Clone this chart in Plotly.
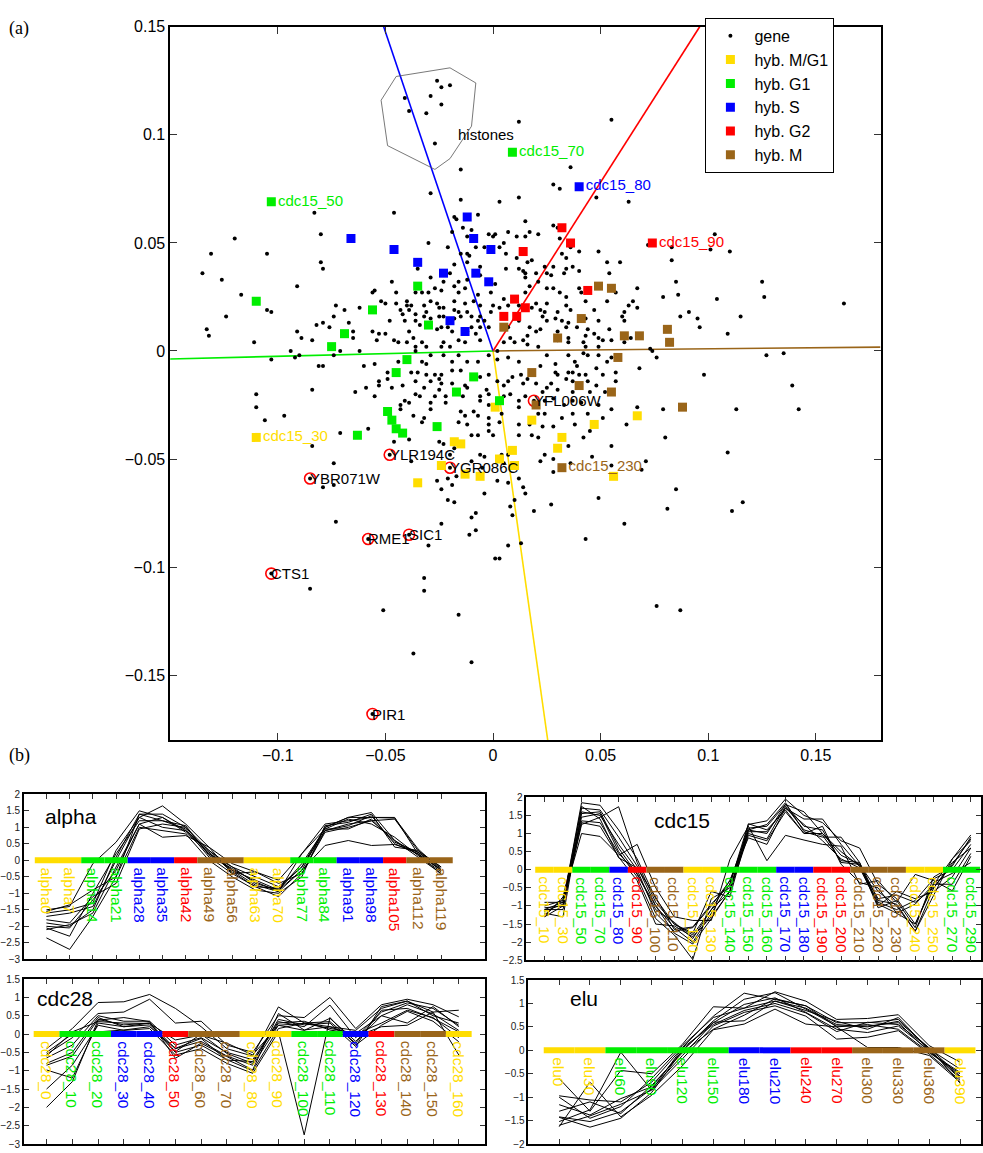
import plotly.graph_objects as go

FONT = "Liberation Sans, Arial, Helvetica, sans-serif"
SERIF = "Liberation Serif, Times New Roman, serif"
W, H = 983, 1153

PHASE_COLOR = {
    "M/G1": "#FFDD00",
    "G1": "#00EE00",
    "S": "#0000FF",
    "G2": "#FF0000",
    "M": "#9A6519",
}

# ---------------------------------------------------------------- panel (a)
# correspondence-analysis scores of the genes, in thousandths
gene_points = [
    (-26, 125), (-24, 122), (-20, 123), (-41, 117), (-29, 118), (-24, 114), (-39, 111), (-31, 110), (-27, 96),
    (12, 106), (55, 107), (-15, 84), (-29, 73), (-15, 70), (3, 69), (36, 85), (28, 77), (31, 75), (12, 71),
    (48, 71), (63, 69),
    (-83, 64), (-120, 52), (-80, 54), (-131, 45), (-105, 45), (-80, 41), (-79, 38), (-135, 36), (-126, 33),
    (-91, 30), (-117, 26), (-105, 19), (-103, 18), (-73, 21), (-69, 19), (-62, 20), (-124, 16), (-74, 16),
    (-82, 12), (-79, 13), (-67, 13), (-133, 10), (-76, 11), (-65, 9), (-132, 7), (-111, 4), (-91, 9), (-89, 6),
    (-84, 5), (-65, 6), (-94, 0), (-90, -2), (-71, 0), (-62, 0), (-103, -4), (-92, -3), (-74, -2), (-81, -7),
    (-79, -7), (-60, -7),
    (-110, -20), (-110, -26), (-106, -32), (-97, -30), (-84, -18), (-64, -19), (-59, -17), (-71, -38),
    (-58, -36), (-84, -44), (-74, -52), (-79, -63), (-74, -62), (-73, -79), (-85, -110), (-51, -120),
    (-37, -140), (-10, -144), (-16, -122), (-32, -105), (-32, -111), (-30, -90), (-24, -80), (-11, -85),
    (-8, -83), (-10, -77), (-8, -75), (1, -96), (3, -96), (-18, -70),
    (-46, 64), (-18, 62), (-17, 61), (-7, 63), (15, 60), (-14, 57), (-10, 56), (-19, 55), (-2, 54), (0, 53),
    (1, 54), (7, 55), (11, 53), (-12, 53), (5, 50), (-30, 50), (-8, 48), (-4, 48), (3, 48), (-21, 48),
    (-12, 45), (-11, 44), (-15, 45), (6, 45), (-18, 40), (-12, 41), (11, 43), (-35, 38), (-6, 39), (6, 38),
    (12, 38), (-29, 34), (-20, 36), (-16, 32), (-23, 32), (-18, 30), (-12, 33), (-6, 35), (1, 31), (14, 37),
    (-47, 32), (-27, 29), (-13, 29), (-24, 28), (-30, 27), (-33, 27), (-45, 27), (-16, 27), (-7, 26), (-1, 27),
    (5, 24), (-55, 28), (-56, 27), (-52, 23), (-50, 22), (-40, 23), (-36, 27), (-29, 23), (-26, 22), (-18, 23),
    (-13, 22), (-9, 23), (-6, 21), (0, 21), (12, 21), (-45, 22), (-40, 21), (-38, 21), (-32, 21), (-25, 20),
    (-23, 20), (-18, 19), (3, 20), (7, 21), (-43, 19), (-39, 19), (-31, 18), (-16, 18), (-12, 18), (-10, 16),
    (-7, 14), (-42, 17), (-36, 17), (-32, 16), (-29, 15), (-25, 16), (-23, 16), (-18, 15), (-15, 16), (-6, 16),
    (-4, 14), (-1, 18), (-48, 14), (-41, 14), (-36, 14), (-34, 12), (-24, 11), (-21, 11), (-10, 11), (-6, 11),
    (-2, 11), (7, 11), (12, 14), (-56, 9), (-53, 8), (-50, 8), (-39, 9), (-26, 10), (-19, 9), (-12, 9), (-8, 8),
    (-54, 5), (-46, 5), (-44, 4), (-40, 4), (-37, 6), (-33, 4), (-23, 4), (-16, 5), (-13, 4), (-6, 5), (5, 4),
    (8, 6), (10, 4), (14, 5), (-36, 2), (-31, 2), (-24, 2), (-20, 2),
    (28, 58), (30, 57), (17, 55), (21, 54), (31, 52), (36, 48), (40, 46), (49, 46), (72, 49), (83, 48), (15, 53),
    (32, 45), (34, 43), (18, 42), (16, 41), (53, 41), (59, 41), (83, 42), (24, 39), (28, 39), (37, 39), (40, 37),
    (34, 38), (33, 36), (25, 36), (27, 35), (20, 36), (15, 36), (54, 36), (21, 32), (17, 30), (15, 34), (25, 29),
    (28, 29), (31, 27), (40, 29), (41, 27), (57, 27), (67, 29), (15, 27), (20, 22), (25, 22), (34, 25), (43, 23),
    (53, 23), (65, 23), (79, 25), (86, 26), (18, 20), (22, 19), (24, 18), (30, 18), (34, 21), (36, 19), (47, 19),
    (63, 21), (67, 20), (61, 18), (60, 16), (23, 16), (25, 14), (29, 15), (32, 14), (35, 13), (43, 15), (49, 14),
    (61, 14), (17, 11), (20, 9), (22, 10), (30, 9), (34, 11), (39, 11), (44, 10), (54, 10), (43, 7), (47, 8),
    (49, 6), (35, 6), (16, 7), (16, 3), (21, 2), (51, 5), (55, 5), (42, 4), (43, 2), (49, 2), (61, 4), (73, 1),
    (83, 5), (64, 6), (30, 5), (35, 4), (85, 32),
    (-55, -6), (-49, -10), (-49, -13), (-53, -16), (-55, -21), (-44, -5), (-36, 0), (-33, -5), (-31, -6),
    (-29, -2), (-23, -2), (-19, -5), (-16, -2), (-12, -5), (-7, -5), (-2, -2), (2, 0), (2, -4), (7, -3),
    (12, -5), (-38, -10), (-35, -10), (-31, -11), (-27, -11), (-24, -11), (-19, -9), (-15, -9), (-6, -12),
    (-2, -11), (2, -14), (9, -12), (13, -11), (-42, -16), (-36, -14), (-32, -17), (-29, -14), (-25, -13),
    (-24, -15), (-19, -15), (-13, -16), (-12, -17), (-3, -18), (5, -16), (7, -14), (14, -15), (-53, -14),
    (-47, -17), (-36, -20), (-34, -21), (-27, -21), (-25, -18), (-22, -21), (-14, -21), (-6, -21), (-2, -20),
    (5, -21), (8, -20), (12, -23), (-41, -23), (-43, -25), (-39, -24), (-29, -24), (-22, -24), (-6, -23),
    (-2, -25), (12, -26), (-37, -30), (-32, -31), (-29, -27), (-43, -27), (-15, -28), (-13, -30), (-9, -28),
    (-7, -30), (-2, -31), (4, -29), (-33, -33), (-16, -33), (-12, -34), (-2, -34), (3, -33), (12, -34),
    (-2, -37), (-10, -39), (-7, -39), (0, -39), (12, -39), (-46, -42), (-39, -41), (-25, -42), (-23, -43),
    (-18, -45), (-6, -48), (-4, -49), (-10, -51), (4, -48), (7, -48), (-38, -51), (-20, -48), (5, -52),
    (-5, -54), (-21, -59), (-17, -58), (-26, -60), (-19, -62), (-24, -64), (-4, -66), (-21, -69), (2, -60),
    (7, -61), (12, -59), (14, -63), (10, -69),
    (25, -2), (29, -6), (35, -2), (38, -5), (39, -7), (37, -10), (35, -10), (44, -2), (49, -2), (53, -5),
    (55, -3), (42, -1), (76, -3), (74, 0), (22, -7), (29, -10), (30, -11), (40, -11), (43, -11), (48, -8),
    (51, -11), (57, -10), (68, -8), (16, -13), (20, -15), (27, -15), (34, -13), (37, -14), (44, -14), (48, -16),
    (57, -14), (25, -17), (23, -19), (30, -18), (37, -19), (45, -19), (52, -19), (15, -21), (24, -23), (28, -22),
    (33, -25), (37, -23), (41, -24), (49, -25), (55, -27), (24, -29), (21, -29), (32, -31), (37, -29), (44, -29),
    (51, -31), (62, -34), (67, -26), (79, -27), (17, -34), (23, -35), (28, -35), (38, -34), (45, -37), (42, -40),
    (18, -39), (21, -40), (35, -44), (55, -44), (80, -40), (24, -48), (28, -50), (22, -51), (36, -52), (28, -56),
    (46, -49), (55, -53), (69, -55), (71, -51), (15, -66), (49, -68), (85, -64),
    (103, 54), (101, 47), (110, 46), (104, 24), (125, 32), (126, 25), (163, 22), (87, 16), (91, 18), (95, 15),
    (96, 11), (115, 16), (109, 8), (127, -2), (135, -1), (98, -11), (139, -16), (142, -27), (113, -27),
    (109, -47), (81, -73), (111, -74), (116, -70), (61, -80), (43, -87), (27, -71), (19, -74), (8, -72),
    (9, -76), (13, -89), (7, -90), (76, -118), (87, -120),
]

# genes singled out with a red ring
marked_names = ["YLR194C", "YGR086C", "YBR071W", "RME1", "SIC1", "CTS1", "PIR1", "YFL006W"]
marked_x = [-48, -20, -85, -58, -39, -103, -56, 19]
marked_y = [-48, -54, -59, -87, -85, -103, -168, -23]

# hybridisation scores per cell-cycle phase (thousandths); named hybs come first
mg1_named = ["cdc15_30"]
mg1_x = [-110, 1, -18, -15, -24, -35, -13, -6, 3, 18, 32, 30, 47, 67, 9, 10, 56]
mg1_y = [-40, -26, -42, -43, -53, -61, -57, -58, -50, -32, -40, -45, -34, -30, -46, -53, -58]

g1_named = ["cdc15_50", "cdc15_70"]
g1_x = [-103, 9, -110, -56, -35, -69, -75, -30, -40, -45, -9, -17, -49, -47, -45, -42, -26, -63, 3]
g1_y = [69, 92, 23, 19, 30, 8, 2, 12, -4, -10, -12, -19, -28, -32, -36, -38, -35, -39, -23]

s_named = ["cdc15_80"]
s_x = [40, -66, -46, -35, -23, -12, -9, -1, -8, -2, -20, -13]
s_y = [76, 52, 47, 41, 36, 62, 52, 47, 36, 32, 14, 9]

g2_named = ["cdc15_90"]
g2_x = [74, 32, 36, 14, 44, 10, 15, 5, 11]
g2_y = [50, 57, 50, 46, 28, 24, 20, 16, 16]

m_named = ["cdc15_230"]
m_x = [32, 49, 55, 41, 30, 61, 68, 81, 82, 5, 58, 18, 40, 55, 20, 88]
m_y = [-54, 30, 29, 15, 6, 7, 7, 10, 4, 11, -3, -10, -16, -19, -25, -26]

# direction of each phase axis, drawn from the origin to the frame
phase_axis_end = {
    "M/G1": (0.0254, -0.18),
    "G1": (-0.15, -0.0037),
    "S": (-0.0508, 0.15),
    "G2": (0.096, 0.15),
    "M": (0.18, 0.0018),
}

# outline around the histone genes (thousandths)
histone_x = [-52, -45, -20, -8, -10, -20, -27, -49, -52]
histone_y = [116, 127, 131, 124, 104, 89, 84, 95, 116]

# ---------------------------------------------------------------- panel (b)
alpha_names = ["alpha0", "alpha7", "alpha14", "alpha21", "alpha28", "alpha35", "alpha42", "alpha49", "alpha56",
               "alpha63", "alpha70", "alpha77", "alpha84", "alpha91", "alpha98", "alpha105", "alpha112", "alpha119"]
alpha_phases = ["M/G1", "M/G1", "G1", "G1", "S", "S", "G2", "M", "M",
                "M/G1", "M/G1", "G1", "G1", "S", "S", "G2", "M", "M"]
alpha_profiles = [
    [-1.5, -1.4, -0.1, 0.55, 1.5, 1.3, 0.9, 0.3, -0.2, -0.5, -0.8, -0.2, 0.9, 1.1, 1.2, 1.25, 0.3, -0.2],
    [-1.6, -1.5, -1.3, 0.3, 1.3, 1.65, 1.1, 0.4, -0.1, -0.35, -0.6, 0.2, 1.1, 1.2, 1.3, 1.3, 0.2, -0.3],
    [-1.9, -2.0, -1.5, 0.1, 1.4, 1.4, 1.0, 0.2, -0.3, -0.6, -0.9, -0.3, 1.0, 1.3, 1.45, 0.6, 0.1, -0.4],
    [-2.05, -2.3, -1.0, 0.2, 1.2, 1.2, 0.95, 0.1, -0.4, -0.8, -1.1, -0.4, 0.9, 1.05, 1.35, 0.5, 0.2, -0.3],
    [-2.1, -1.95, -1.6, -0.2, 1.1, 1.3, 0.85, 0.2, -0.2, -0.7, -0.9, -0.1, 0.95, 1.25, 1.1, 0.7, 0.15, -0.35],
    [-2.35, -2.7, -1.7, -0.5, 1.0, 0.9, 0.8, 0.0, -0.5, -0.9, -1.0, -0.5, 1.05, 1.15, 1.4, 0.4, 0.3, -0.25],
    [-1.8, -1.9, -1.1, -0.7, 0.95, 1.1, 1.0, 0.3, -0.3, -0.75, -0.95, -0.3, 0.45, 0.6, 0.45, 0.48, 0.25, -0.2],
    [-1.7, -1.6, -1.4, 0.0, 1.3, 1.0, 0.9, 0.25, -0.35, -0.8, -0.85, -0.2, 1.0, 1.3, 1.3, 1.28, 0.35, -0.3],
    [-2.0, -2.05, -1.2, -0.3, 1.1, 0.7, 0.75, 0.4, -0.4, -0.35, -0.7, -0.4, 0.85, 1.0, 1.2, 0.6, 0.18, -0.42],
    [-1.55, -1.35, -0.9, -0.5, 1.4, 1.2, 1.05, 0.15, -0.25, -0.65, -0.95, 0.2, 0.95, 0.95, 1.25, 0.55, 0.25, -0.3],
]

cdc15_names = ["cdc15_10", "cdc15_30", "cdc15_50", "cdc15_70", "cdc15_80", "cdc15_90", "cdc15_100", "cdc15_110",
               "cdc15_120", "cdc15_130", "cdc15_140", "cdc15_150", "cdc15_160", "cdc15_170", "cdc15_180",
               "cdc15_190", "cdc15_200", "cdc15_210", "cdc15_220", "cdc15_230", "cdc15_240", "cdc15_250",
               "cdc15_270", "cdc15_290"]
cdc15_phases = ["M/G1", "M/G1", "G1", "G1", "S", "G2", "M", "M", "M/G1", "M/G1", "G1", "G1", "G1", "S", "S",
                "G2", "G2", "M", "M", "M", "M/G1", "M/G1", "G1", "G1"]
cdc15_profiles = [
    [-1.1, -0.9, 1.85, 1.78, 1.1, 0.3, -0.8, -1.5, -1.8, -1.1, -0.6, 1.25, 1.35, 1.95, 1.5, 1.3, 0.8, 0.6, -0.4, -0.8, -1.5, -0.4, 0.3, 0.96],
    [-1.3, -1.0, 1.7, 1.65, 0.9, 0.1, -1.0, -1.6, -2.0, -1.2, -0.4, 1.15, 1.2, 1.8, 1.6, 1.0, 0.4, 0.15, -0.6, -1.0, -1.7, -0.5, 0.15, 0.85],
    [-1.2, -1.3, 1.6, 1.5, 0.7, 0.0, -1.2, -1.7, -1.6, -1.0, -0.3, 1.05, 1.05, 1.7, 1.4, 1.4, 0.7, 0.1, -0.9, -1.1, -0.85, -0.25, 0.0, 0.7],
    [-1.0, -0.85, 1.45, 1.55, 0.5, -0.2, -1.35, -1.8, -2.48, -0.8, -0.5, 1.0, 0.85, 1.75, 1.1, 0.95, 0.25, 0.2, -1.0, -0.6, -0.8, -0.6, -0.2, 0.6],
    [-1.15, -0.95, 1.3, 1.2, 0.35, -0.3, -1.5, -1.55, -1.85, -1.3, -0.6, 0.95, 0.8, 1.6, 1.0, 1.2, 0.15, -0.35, -0.5, -1.2, -0.95, -0.4, -0.4, 0.45],
    [-1.25, -0.8, 1.0, 0.92, 0.4, 0.7, -0.5, -1.3, -1.4, -1.4, 0.28, 1.2, 0.25, 0.95, 0.82, 0.7, 0.65, -0.4, -0.3, -0.9, -0.13, -0.3, -0.58, 0.37],
    [-1.05, -1.0, 1.25, 1.45, 1.74, 0.2, -0.9, -1.5, -1.75, -0.6, -0.75, 1.1, 1.25, 1.85, 1.05, 0.9, 0.9, 0.2, -0.85, -0.95, -1.7, -0.7, 0.3, 0.8],
    [-0.9, -0.9, 1.75, 1.4, 0.33, 0.05, -0.76, -1.65, -1.58, -0.95, -0.4, 1.27, 1.1, 1.65, 1.0, 1.0, 0.5, 0.1, -0.8, -0.7, -0.9, -0.5, 0.2, 0.6],
    [-1.3, -0.75, 1.35, 1.3, 0.45, -0.1, -1.1, -1.45, -1.9, -1.1, -0.3, 0.88, 0.7, 1.7, 1.25, 0.8, 0.3, 0.05, -0.95, -1.2, -1.5, -0.35, -0.1, 0.2],
    [-1.1, -1.1, 1.55, 1.6, 0.6, -0.13, -1.0, -1.75, -2.05, -1.35, -0.58, 1.1, 1.0, 1.8, 1.2, 1.1, 0.2, 0.15, -1.05, -0.85, -1.6, -0.2, 0.1, 0.9],
]

cdc28_names = ["cdc28_0", "cdc28_10", "cdc28_20", "cdc28_30", "cdc28_40", "cdc28_50", "cdc28_60", "cdc28_70",
               "cdc28_80", "cdc28_90", "cdc28_100", "cdc28_110", "cdc28_120", "cdc28_130", "cdc28_140",
               "cdc28_150", "cdc28_160"]
cdc28_phases = ["M/G1", "G1", "G1", "S", "S", "G2", "M", "M", "M/G1", "M/G1", "G1", "G1", "S", "G2", "M", "M", "M/G1"]
cdc28_profiles = [
    [-0.4, 0.15, 0.86, 0.88, 1.08, 0.7, 0.2, -0.4, -0.6, 0.74, 0.3, 0.2, 0.1, 0.7, 0.9, 0.6, 0.65],
    [-0.55, -0.1, 0.56, 0.6, 0.95, 0.3, 0.35, -0.3, -0.5, 0.5, 0.45, 1.0, 0.15, 0.8, 0.95, 0.8, 0.47],
    [-0.65, -0.3, 0.5, 0.35, 0.35, -0.3, -0.1, -0.5, -0.7, 0.34, 0.2, 0.79, -0.1, 0.6, 0.85, 0.7, 0.24],
    [-0.85, -0.6, 0.4, 0.25, 0.3, -0.4, -0.2, -0.6, -0.85, 0.24, 0.1, 0.43, -0.2, 0.5, 0.8, 0.55, 0.1],
    [-0.98, -1.2, 0.3, 0.2, 0.25, -0.5, -0.3, -0.7, -1.0, 0.15, 0.3, 0.34, -0.25, 0.65, 0.7, 0.43, 0.06],
    [-1.5, -0.85, 0.24, 0.1, 0.15, -0.57, -0.4, -0.8, -1.07, 0.06, -2.75, 0.45, -0.3, 0.24, 0.62, 0.35, -0.21],
    [-2.0, -1.3, 0.38, 0.45, 0.34, -0.66, -0.25, -0.62, -0.98, 0.56, 0.11, 0.2, -0.07, 0.2, 0.24, 0.6, -0.57],
    [-0.6, 0.06, 0.34, 0.3, 0.29, -0.16, -0.03, -0.25, -0.57, 0.24, 0.29, 0.15, 0.02, 0.5, 0.3, 0.75, 0.2],
    [-0.8, -0.5, 0.45, 0.2, 0.3, -0.48, 0.0, -0.53, -0.8, 0.4, 0.25, 0.3, -0.34, 0.75, 0.9, 0.5, 0.3],
    [-0.5, 0.0, 0.06, 0.11, 0.2, -0.39, -0.12, -0.71, -0.75, 0.3, 0.35, 0.11, 0.0, 0.3, 0.65, 0.45, -0.1],
]

elu_names = ["elu0", "elu30", "elu60", "elu90", "elu120", "elu150", "elu180", "elu210", "elu240", "elu270",
             "elu300", "elu330", "elu360", "elu390"]
elu_phases = ["M/G1", "M/G1", "G1", "G1", "G1", "G1", "S", "S", "G2", "G2", "M", "M", "M", "M/G1"]
elu_profiles = [
    [-0.6, -1.3, -0.43, -0.5, 0.13, 0.93, 0.9, 1.25, 1.05, 0.66, 0.68, 0.76, 0.1, -0.25],
    [-0.97, -1.06, -1.1, -0.68, 0.06, 0.73, 1.22, 1.09, 0.95, 0.59, 0.59, 0.66, 0.03, -0.4],
    [-1.16, -1.38, -1.03, -0.78, -0.01, 0.63, 1.09, 1.23, 0.88, 0.52, 0.52, 0.59, -0.04, -0.47],
    [-1.42, -1.52, -1.31, -0.82, -0.11, 0.59, 0.98, 1.12, 0.81, 0.45, 0.38, 0.52, 0.0, -0.57],
    [-1.52, -1.27, -0.04, -0.85, -0.18, 0.52, 0.81, 0.95, 0.73, 0.24, 0.28, 0.42, -0.08, -0.64],
    [-1.63, -0.68, -1.42, -0.96, -0.33, 0.44, 0.56, 0.88, 0.56, 0.5, 0.06, 0.06, -0.11, -0.68],
    [-1.43, -1.64, -1.45, -0.9, 0.0, 0.6, 0.63, 1.05, 0.9, 0.55, 0.5, 0.62, 0.05, -0.55],
    [-1.0, -1.45, -1.2, -0.6, 0.1, 0.7, 0.9, 1.05, 0.85, 0.62, 0.45, 0.7, 0.0, -0.6],
    [-1.3, -1.1, -1.35, -0.75, -0.05, 0.45, 0.75, 1.1, 0.95, 0.5, 0.55, 0.45, -0.05, -0.5],
    [-1.6, -1.4, -1.15, -0.85, 0.05, 0.55, 0.85, 1.0, 0.8, 0.4, 0.6, 0.55, 0.05, -0.7],
]


def px_x(px):
    return px / W


def px_y(py):
    return 1 - py / H


def milli(values):
    return [v / 1000 for v in values]


fig = go.Figure()

# phase axes from the origin
for phase, (ex, ey) in phase_axis_end.items():
    fig.add_trace(go.Scatter(x=[0, ex], y=[0, ey], mode="lines", showlegend=False, hoverinfo="skip",
                             line=dict(color=PHASE_COLOR[phase], width=1.6), xaxis="x", yaxis="y"))

# histone outline
fig.add_trace(go.Scatter(x=milli(histone_x), y=milli(histone_y), mode="lines", showlegend=False,
                         hoverinfo="skip", line=dict(color="#555555", width=0.8), xaxis="x", yaxis="y"))

gene_x = [p[0] / 1000 for p in gene_points]
gene_y = [p[1] / 1000 for p in gene_points]
fig.add_trace(go.Scatter(x=gene_x, y=gene_y, mode="markers", name="gene",
                         marker=dict(color="black", size=4), xaxis="x", yaxis="y"))

# marked genes: black dot inside a red ring
fig.add_trace(go.Scatter(x=milli(marked_x), y=milli(marked_y), mode="markers", showlegend=False,
                         marker=dict(color="black", size=4), xaxis="x", yaxis="y"))
fig.add_trace(go.Scatter(x=milli(marked_x), y=milli(marked_y), mode="markers", showlegend=False,
                         marker=dict(symbol="circle-open", color="#FF0000", size=11, line=dict(width=1.6)),
                         xaxis="x", yaxis="y"))

hyb_sets = [
    ("hyb. M/G1", "M/G1", mg1_x, mg1_y, mg1_named),
    ("hyb. G1", "G1", g1_x, g1_y, g1_named),
    ("hyb. S", "S", s_x, s_y, s_named),
    ("hyb. G2", "G2", g2_x, g2_y, g2_named),
    ("hyb. M", "M", m_x, m_y, m_named),
]
for label, phase, xs, ys, named in hyb_sets:
    texts = [named[i] if i < len(named) else "" for i in range(len(xs))]
    fig.add_trace(go.Scatter(x=milli(xs), y=milli(ys), mode="markers+text", name=label, text=texts,
                             textposition="middle right",
                             textfont=dict(family=FONT, size=15, color=PHASE_COLOR[phase]),
                             marker=dict(symbol="square", color=PHASE_COLOR[phase], size=9),
                             xaxis="x", yaxis="y"))

annotations = []
for name, gx, gy in zip(marked_names, marked_x, marked_y):
    annotations.append(dict(x=gx / 1000, y=gy / 1000, xref="x", yref="y", text=name, showarrow=False,
                            xanchor="left", yanchor="middle", xshift=-2,
                            font=dict(family=FONT, size=15, color="black")))
annotations.append(dict(x=-0.017, y=0.100, xref="x", yref="y", text="histones", showarrow=False,
                        xanchor="left", yanchor="middle", font=dict(family=FONT, size=15, color="black")))
annotations.append(dict(x=px_x(4), y=px_y(21), xref="paper", yref="paper", text="(a)", showarrow=False,
                        xanchor="left", yanchor="middle", font=dict(family=SERIF, size=18, color="black")))
annotations.append(dict(x=px_x(4), y=px_y(757), xref="paper", yref="paper", text="(b)", showarrow=False,
                        xanchor="left", yanchor="middle", font=dict(family=SERIF, size=18, color="black")))

layout_axes = {}
layout_axes["xaxis"] = dict(domain=[px_x(168), px_x(882)], range=[-0.15, 0.18],
                            tickvals=[-0.1, -0.05, 0, 0.05, 0.1, 0.15], anchor="y")
layout_axes["yaxis"] = dict(domain=[px_y(741), px_y(19)], range=[-0.18, 0.15],
                            tickvals=[-0.15, -0.1, -0.05, 0, 0.05, 0.1, 0.15], anchor="x")
for key in ("xaxis", "yaxis"):
    layout_axes[key].update(ticks="inside", ticklen=7, tickcolor="#333333", mirror="allticks",
                            showline=True, linecolor="black", linewidth=1.5, showgrid=False,
                            zeroline=False, tickfont=dict(family=FONT, size=16, color="black"))

panels = [
    ("alpha", alpha_names, alpha_phases, alpha_profiles, 2, [-0.97, 18.87], [-3, 2],
     (21, 484), (796, 963), (0.041, 0.868)),
    ("cdc15", cdc15_names, cdc15_phases, cdc15_profiles, 3, [-0.98, 23.55], [-2.5, 2],
     (526, 983), (799, 964), (0.276, 0.855)),
    ("cdc28", cdc28_names, cdc28_phases, cdc28_profiles, 4, [-0.88, 17.0], [-3, 1.5],
     (21, 484), (983, 1150), (0.024, 0.88)),
    ("elu", elu_names, elu_phases, elu_profiles, 5, [-1.0, 13.68], [-2, 1.5],
     (528, 983), (984, 1150), (0.088, 0.886)),
]

for title, names, phases, profiles, k, xr, yr, (x0, x1), (y0, y1), (tx, ty) in panels:
    xa, ya = f"x{k}", f"y{k}"
    idx = list(range(len(names)))
    for prof in profiles:
        fig.add_trace(go.Scatter(x=idx, y=prof, mode="lines", showlegend=False, hoverinfo="skip",
                                 line=dict(color="black", width=1), xaxis=xa, yaxis=ya))
    # phase colour strip along y = 0, one block per hybridisation
    for i, ph in enumerate(phases):
        fig.add_trace(go.Scatter(x=[i - 0.5, i + 0.5], y=[0, 0], mode="lines", showlegend=False,
                                 hoverinfo="skip", line=dict(color=PHASE_COLOR[ph], width=6),
                                 xaxis=xa, yaxis=ya))
    for i, (nm, ph) in enumerate(zip(names, phases)):
        annotations.append(dict(x=i, y=0, xref=xa, yref=ya, text=nm, textangle=90, showarrow=False,
                                xanchor="center", yanchor="top", yshift=-5,
                                font=dict(family=FONT, size=15.5, color=PHASE_COLOR[ph])))
    annotations.append(dict(x=tx, y=ty, xref=f"{xa} domain", yref=f"{ya} domain", text=title,
                            showarrow=False, xanchor="left", yanchor="middle",
                            font=dict(family=FONT, size=21, color="black")))
    common = dict(ticks="inside", ticklen=5, tickcolor="#333333", mirror="allticks", showline=True,
                  linecolor="black", linewidth=1.5, showgrid=False, zeroline=False)
    layout_axes[f"xaxis{k}"] = dict(domain=[px_x(x0), px_x(x1)], range=xr, tickvals=idx,
                                    showticklabels=False, anchor=ya, **common)
    layout_axes[f"yaxis{k}"] = dict(domain=[px_y(y1), px_y(y0)], range=yr, tick0=0, dtick=0.5,
                                    anchor=xa, tickfont=dict(family=FONT, size=10, color="#222222"),
                                    **common)

fig.update_layout(
    width=W, height=H, margin=dict(l=0, r=0, t=0, b=0),
    paper_bgcolor="white", plot_bgcolor="white",
    font=dict(family=FONT, color="black"),
    showlegend=True,
    legend=dict(x=px_x(706), y=px_y(10), xanchor="left", yanchor="top", bgcolor="white",
                bordercolor="black", borderwidth=1, font=dict(family=FONT, size=16, color="black"),
                tracegroupgap=0, itemwidth=38, entrywidth=102, entrywidthmode="pixels"),
    annotations=annotations,
    **layout_axes,
)

fig.write_html("out.html")
